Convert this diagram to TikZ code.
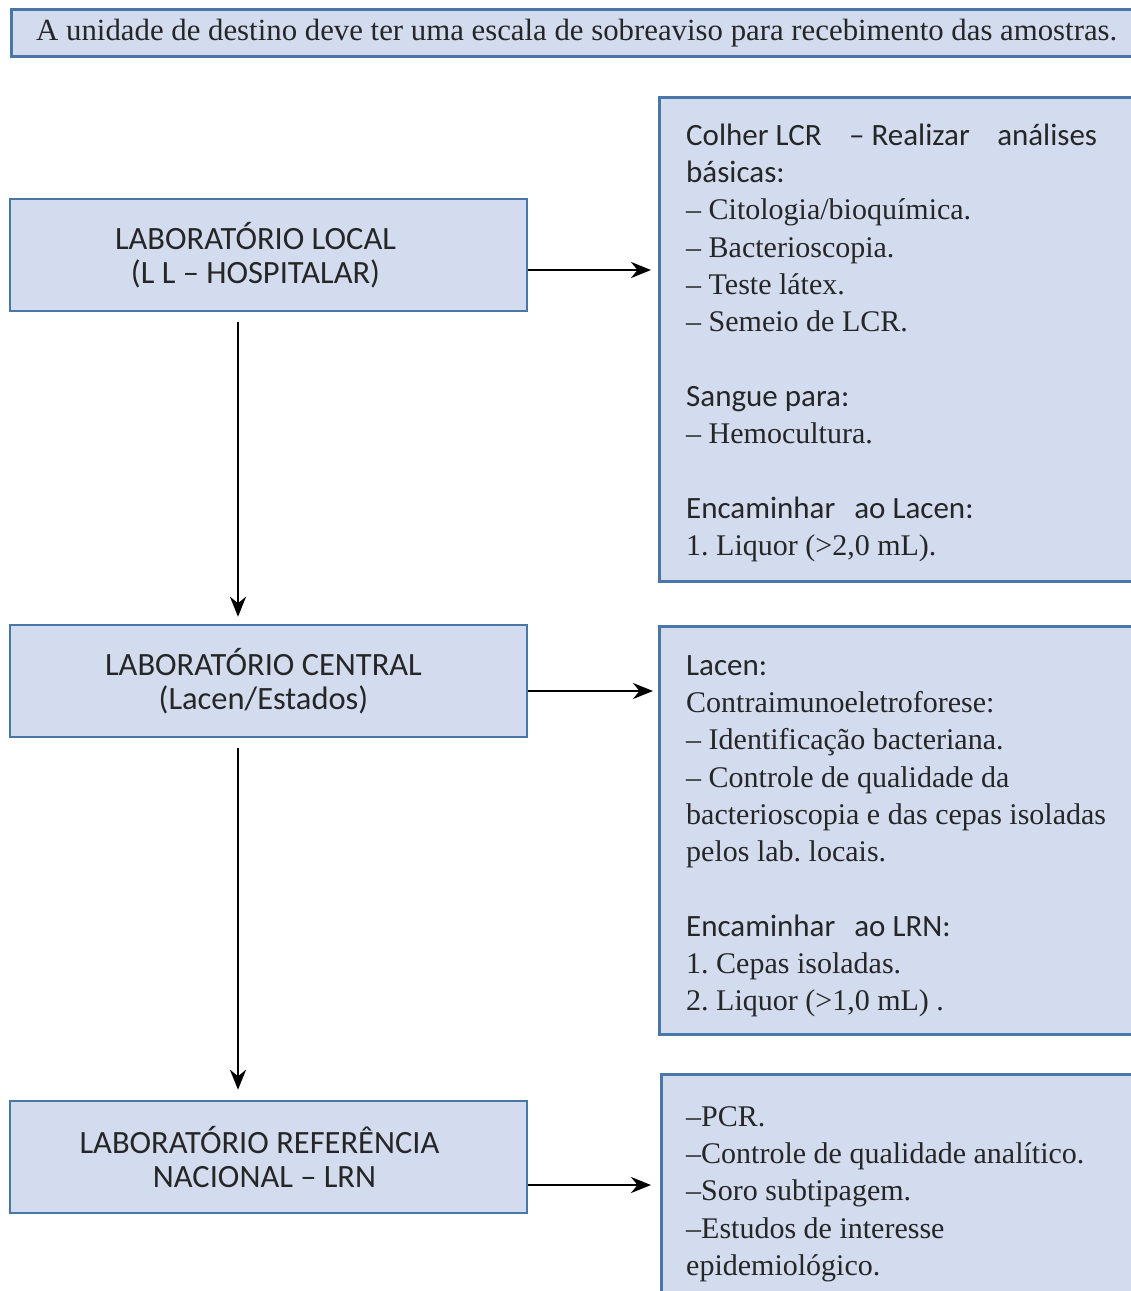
\documentclass[tikz,border=0pt]{standalone}
\usepackage{fontspec}
\setmainfont{Liberation Serif}
\newfontfamily\carl{Carlito}
\usetikzlibrary{arrows.meta}
\frenchspacing
\definecolor{boxfill}{RGB}{210,220,238}
\definecolor{boxline}{RGB}{74,118,168}
\definecolor{txt}{RGB}{38,38,38}
\newcommand{\sa}{\carl\fontsize{31}{37.3}\selectfont}
\newcommand{\se}{\rmfamily\fontsize{30}{37.3}\selectfont}
\begin{document}
\begin{tikzpicture}[x=1pt,y=-1pt,
  box/.style={draw=boxline, line width=2.5pt, fill=boxfill, rectangle, inner sep=0pt},
  lab/.style={box, minimum width=517pt, minimum height=112pt, align=center, text=txt,
    font=\carl\fontsize{32.5}{34.5}\selectfont},
  txtblk/.style={anchor=north west, align=left, inner sep=0pt, text=txt,
    font=\rmfamily\fontsize{30}{37.3}\selectfont},
  arr/.style={line width=2.8pt, draw=black, -{Stealth[length=20pt,width=16pt]}}]
\clip (0,0) rectangle (1131,1291);
\fill[white] (0,0) rectangle (1131,1291);

% header
\node[box, anchor=north west, minimum width=1135pt, minimum height=47pt, text=txt,
  font=\rmfamily\fontsize{30.8}{34}\selectfont] (head) at (10,8)
  {\hbox{A unidade de destino deve ter uma escala de sobreaviso para recebimento das amostras.\kern4pt}};

% left column
\node[lab] (ll) at (268.5,255) {\hbox{LABORATÓRIO LOCAL\kern26pt}\\\hbox{(L L – HOSPITALAR)\kern26pt}};
\node[lab] (lc) at (268.5,681) {\hbox{LABORATÓRIO CENTRAL\kern10pt}\\\hbox{(Lacen/Estados)\kern10pt}};
\node[lab] (ln) at (268.5,1157) {\hbox{LABORATÓRIO REFERÊNCIA\kern18pt}\\\hbox{NACIONAL – LRN\kern8pt}};

% right column boxes
\node[box, anchor=north west, minimum width=485pt, minimum height=484pt] (r1) at (658,96) {};
\node[box, anchor=north west, minimum width=485pt, minimum height=408pt] (r2) at (658,625) {};
\node[box, anchor=north west, minimum width=483pt, minimum height=260pt] (r3) at (660,1073) {};

% right column texts
\node[txtblk] (t1) at (686,119) {%
  \rule{0pt}{26pt}\sa\makebox[411pt][s]{Colher LCR\hfill – Realizar\hfill análises}\\
  \sa básicas:\\
  \se – Citologia/bioquímica.\\
  \se – Bacterioscopia.\\
  \se – Teste látex.\\
  \se – Semeio de LCR.\\[37.3pt]
  \sa Sangue para:\\
  \se – Hemocultura.\\[37.3pt]
  \sa Encaminhar\hspace{12pt} ao Lacen:\\
  \se 1. Liquor (>2,0 mL).};

\node[txtblk] (t2) at (686,649) {%
  \rule{0pt}{26pt}\sa Lacen:\\
  \se Contraimunoeletroforese:\\
  \se – Identificação bacteriana.\\
  \se – Controle de qualidade da\\
  \se bacterioscopia e das cepas isoladas\\
  \se pelos lab. locais.\\[37.3pt]
  \sa Encaminhar\hspace{12pt} ao LRN:\\
  \se 1. Cepas isoladas.\\
  \se 2. Liquor (>1,0 mL) .};

\node[txtblk] (t3) at (686,1100) {%
  \rule{0pt}{26pt}\se –PCR.\\
  \se –Controle de qualidade analítico.\\
  \se –Soro subtipagem.\\
  \se –Estudos de interesse\\
  \se epidemiológico.};

% vertical connectors
\draw[arr, shorten <=10pt, shorten >=7pt] ([xshift=-30.5pt]ll.south) -- ([xshift=-30.5pt]lc.north);
\draw[arr, shorten <=10pt, shorten >=10pt] ([xshift=-30.5pt]lc.south) -- ([xshift=-30.5pt]ln.north);

% horizontal connectors
\draw[arr, shorten >=7pt] ([yshift=-15pt]ll.east) -- ([yshift=-15pt]ll.east -| r1.west);
\draw[arr, shorten >=5pt] ([yshift=-10pt]lc.east) -- ([yshift=-10pt]lc.east -| r2.west);
\draw[arr, shorten >=9pt] ([yshift=-28pt]ln.east) -- ([yshift=-28pt]ln.east -| r3.west);
\end{tikzpicture}
\end{document}
